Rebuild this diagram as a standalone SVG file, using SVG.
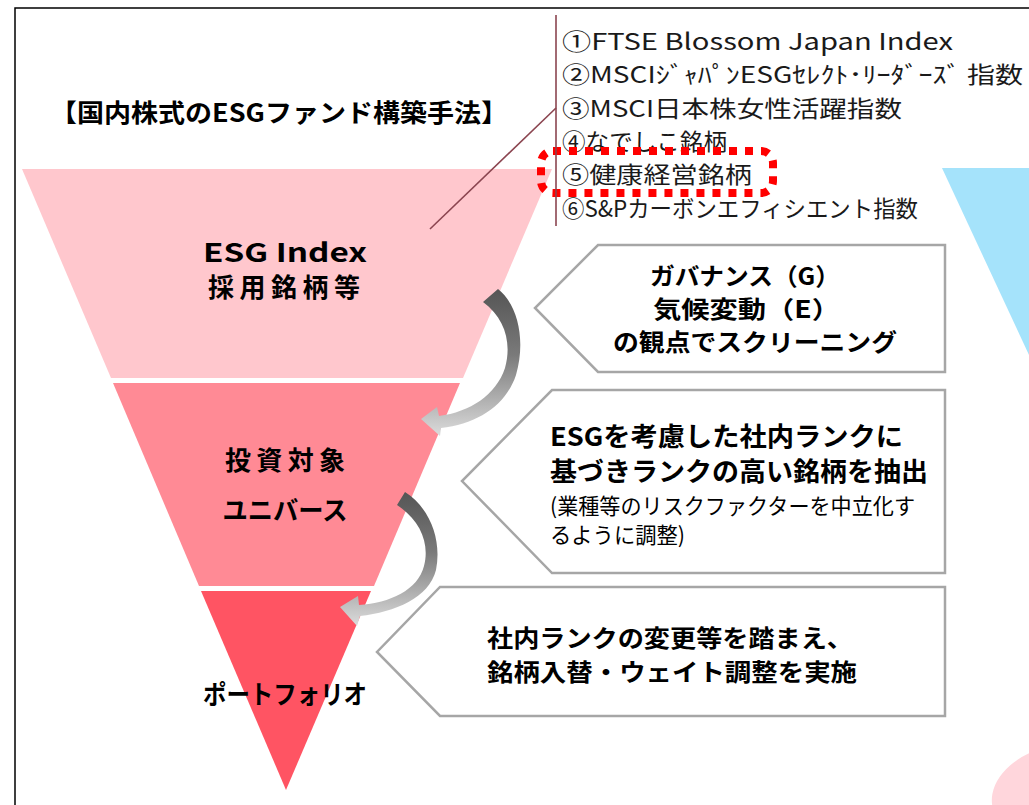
<svg xmlns="http://www.w3.org/2000/svg" width="1029" height="805" viewBox="0 0 1029 805">
<style>
.jp{font-family:"Noto Sans CJK JP","Noto Sans",sans-serif;fill:#000}
.b{font-weight:700}
.list{font-size:23px;fill:#1a1a1a}
.box{fill:#fff;stroke:#a6a6a6;stroke-width:2.5}
.lead{stroke:#8b4550;stroke-width:1.6;fill:none}
</style>
<defs>
<linearGradient id="arrowGrad" x1="0" y1="0" x2="0" y2="1">
<stop offset="0" stop-color="#555"/>
<stop offset="0.45" stop-color="#7a7a7a"/>
<stop offset="1" stop-color="#dcdcdc"/>
</linearGradient>
</defs>
<rect x="0" y="0" width="1029" height="805" fill="#fff"/>
<rect x="15" y="8" width="1100" height="900" fill="none" stroke="#000" stroke-width="1.5"/>

<g id="blue-funnel"><polygon points="942,168 1029,168 1029,355" fill="#a5e3fb"/></g>
<g id="pink-blob"><ellipse cx="1050" cy="790" rx="60" ry="42" transform="rotate(-20 1050 790)" fill="#ffd6dc"/></g>

<g id="title"><text class="jp b" x="50" y="122" font-size="25" textLength="458" lengthAdjust="spacingAndGlyphs">【国内株式のESGファンド構築手法】</text></g>

<g id="band-esg-index">
<polygon points="22,169 552,169 463,378 111,378" fill="#ffc7cd"/>
<text class="jp b" x="285" y="262" font-size="26" text-anchor="middle" textLength="164" lengthAdjust="spacingAndGlyphs">ESG Index</text>
<text class="jp b" x="284" y="297" font-size="26" text-anchor="middle" textLength="152" lengthAdjust="spacing">採用銘柄等</text>
</g>
<g id="band-universe">
<polygon points="113,383 460,383 374,586 199,586" fill="#ff8a95"/>
<text class="jp b" x="285" y="470" font-size="26" text-anchor="middle" textLength="120" lengthAdjust="spacing">投資対象</text>
<text class="jp b" x="285" y="520" font-size="26" text-anchor="middle" textLength="125" lengthAdjust="spacingAndGlyphs">ユニバース</text>
</g>
<g id="band-portfolio">
<polygon points="201,591 371,591 286,790" fill="#ff5463"/>
<text class="jp b" x="285" y="704" font-size="26" text-anchor="middle" textLength="164" lengthAdjust="spacingAndGlyphs">ポートフォリオ</text>
</g>

<g id="box-screening">
<polygon class="box" points="598,245 945,245 945,372 598,372 535,308"/>
<text class="jp b" x="650" y="285" font-size="24" textLength="190" lengthAdjust="spacingAndGlyphs">ガバナンス（G）</text>
<text class="jp b" x="653" y="318" font-size="24" textLength="187" lengthAdjust="spacingAndGlyphs">気候変動（E）</text>
<text class="jp b" x="613" y="351" font-size="24" textLength="284" lengthAdjust="spacingAndGlyphs">の観点でスクリーニング</text>
</g>
<g id="box-rank">
<polygon class="box" points="552,390 945,390 945,573 552,573 462,481"/>
<text class="jp b" x="550" y="446" font-size="26" textLength="353" lengthAdjust="spacingAndGlyphs">ESGを考慮した社内ランクに</text>
<text class="jp b" x="550" y="481" font-size="26" textLength="378" lengthAdjust="spacingAndGlyphs">基づきランクの高い銘柄を抽出</text>
<text class="jp" x="550" y="514" font-size="22" textLength="365" lengthAdjust="spacingAndGlyphs">(業種等のリスクファクターを中立化す</text>
<text class="jp" x="550" y="543" font-size="22" textLength="135" lengthAdjust="spacingAndGlyphs">るように調整)</text>
</g>
<g id="box-rebalance">
<polygon class="box" points="440,587 945,587 945,716 440,716 377,652"/>
<text class="jp b" x="487" y="647" font-size="24" textLength="366" lengthAdjust="spacingAndGlyphs">社内ランクの変更等を踏まえ、</text>
<text class="jp b" x="487" y="681" font-size="24" textLength="370" lengthAdjust="spacingAndGlyphs">銘柄入替・ウェイト調整を実施</text>
</g>

<g id="index-list">
<text class="jp list" x="562" y="50" textLength="391" lengthAdjust="spacingAndGlyphs">①FTSE Blossom Japan Index</text>
<text class="jp list" x="562" y="83" textLength="461" lengthAdjust="spacingAndGlyphs">②MSCIｼﾞｬﾊﾟﾝESGｾﾚｸﾄ･ﾘｰﾀﾞｰｽﾞ 指数</text>
<text class="jp list" x="562" y="117" textLength="340" lengthAdjust="spacingAndGlyphs">③MSCI日本株女性活躍指数</text>
<text class="jp list" x="562" y="150" textLength="165" lengthAdjust="spacingAndGlyphs">④なでしこ銘柄</text>
<text class="jp list" x="562" y="183" textLength="190" lengthAdjust="spacingAndGlyphs">⑤健康経営銘柄</text>
<text class="jp list" x="562" y="217" textLength="356" lengthAdjust="spacingAndGlyphs">⑥S&amp;Pカーボンエフィシエント指数</text>
</g>
<g id="highlight">
<rect x="541" y="151" width="232" height="42" rx="12" fill="none" stroke="#ff0000" stroke-width="8" stroke-dasharray="8 8"/>
</g>

<g id="connectors">
<line class="lead" x1="556" y1="15" x2="556" y2="226"/>
<line class="lead" x1="430" y1="229" x2="556" y2="108"/>
<path fill="url(#arrowGrad)" d="M 483 302 L 498 289 C 518 305, 526 340, 516 375 C 506 405, 478 424, 441 428 L 440 436 L 421 419 L 437 407 L 439 416 C 470 412, 496 395, 505 368 C 512 343, 505 318, 483 302 Z"/>
<path fill="url(#arrowGrad)" d="M 397 505 L 405 492 C 430 508, 442 540, 436 570 C 429 598, 395 612, 360 616 L 357 626 L 340 607 L 358 596 L 359 605 C 390 603, 418 590, 424 566 C 430 543, 420 520, 397 505 Z"/>
</g>
</svg>
